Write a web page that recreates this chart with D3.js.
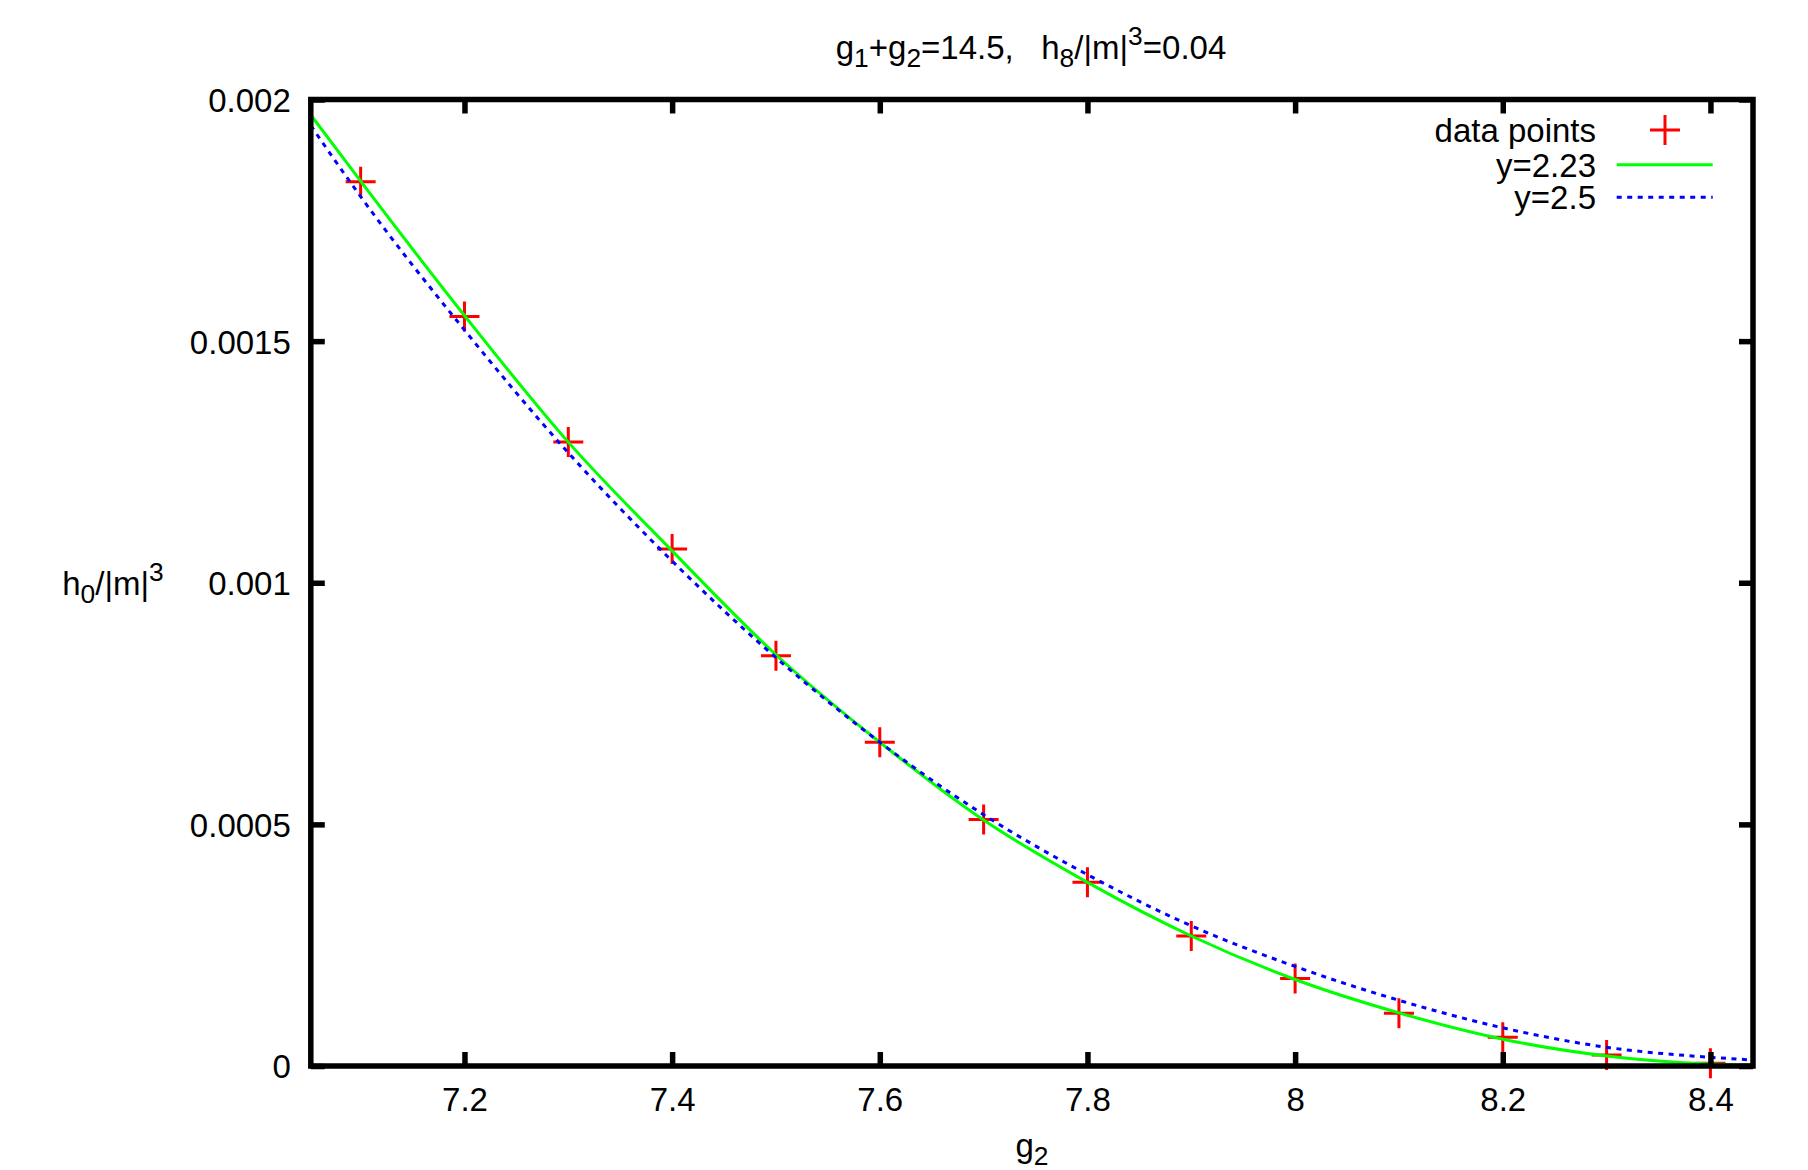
<!DOCTYPE html>
<html>
<head>
<meta charset="utf-8">
<script src="https://cdn.jsdelivr.net/npm/d3@7"></script>
<style>
body { margin: 0; background: #fff; }
text { font-family: "Liberation Sans", Arial, sans-serif; font-size: 33px; fill: #000; }
</style>
</head>
<body>
<div id="chart"></div>
<script>
// data
var pointX = [7.1, 7.2, 7.3, 7.4, 7.5, 7.6, 7.7, 7.8, 7.9, 8.0, 8.1, 8.2, 8.3, 8.4]
var pointY = [0.00183, 0.001551, 0.001291, 0.00107, 0.000849, 0.00067, 0.00051, 0.00038,
              0.000269, 0.000181, 0.000109, 0.0000594, 0.0000228, 0.0000056]

var curveX = [7.052, 7.1, 7.2, 7.3, 7.4, 7.5, 7.6, 7.7, 7.8, 7.9, 8.0, 8.1, 8.2, 8.3, 8.4, 8.441]
var greenY = [0.001968, 0.001831, 0.001553, 0.001291, 0.001066, 0.000851, 0.00067, 0.000509,
              0.00038, 0.000269, 0.000179, 0.00011, 0.0000555, 0.0000208, 0.000004, 0.0000015]
var blueY = [0.001946, 0.001799, 0.001523, 0.001269, 0.001045, 0.000845, 0.00067, 0.00052,
             0.000396, 0.00029, 0.000206, 0.000136, 0.000079, 0.0000387, 0.000018, 0.0000124]

var xTicks = [7.2, 7.4, 7.6, 7.8, 8.0, 8.2, 8.4]
var xTickLabels = ["7.2", "7.4", "7.6", "7.8", "8", "8.2", "8.4"]
var yTicks = [0, 0.0005, 0.001, 0.0015, 0.002]
var yTickLabels = ["0", "0.0005", "0.001", "0.0015", "0.002"]

var legendNames = ["data points", "y=2.23", "y=2.5"]

// set the dimensions of the graph
var width = 1808
var height = 1170
var plotLeft = 310.8, plotRight = 1753, plotTop = 99.5, plotBottom = 1066

var svg = d3.select("#chart")
    .append("svg")
    .attr("width", width)
    .attr("height", height)

svg.append("rect").attr("width", width).attr("height", height).attr("fill", "#fff")

var x = d3.scaleLinear().domain([7.052, 8.441]).range([plotLeft, plotRight])
var y = d3.scaleLinear().domain([0, 0.002]).range([plotBottom, plotTop])

// writes gnuplot-like enhanced text (sub / superscripts)
function richText(sel, parts) {
    var shift = 0
    parts.forEach(function(p) {
        var want = p.sub ? 7.5 : (p.sup ? -14 : 0)
        sel.append("tspan")
            .attr("dy", want - shift)
            .style("font-size", p.sub || p.sup ? "26.4px" : null)
            .text(p.t)
        shift = want
    })
}

svg.append("clipPath").attr("id", "plotclip")
    .append("rect")
    .attr("x", plotLeft).attr("y", plotTop)
    .attr("width", plotRight - plotLeft).attr("height", plotBottom - plotTop)

var crossPath = "M-15,0H15M0,-15V15"

// data points
svg.append("g")
    .selectAll("path")
    .data(pointX)
    .enter()
    .append("path")
    .attr("d", crossPath)
    .attr("transform", function(d, i) { return "translate(" + x(d) + "," + y(pointY[i]) + ")" })
    .attr("fill", "none")
    .attr("stroke", "#ff0000")
    .attr("stroke-width", 3)

var line = function(vals) {
    return d3.line()
        .x(function(d) { return x(d) })
        .y(function(d, i) { return y(vals[i]) })
        .curve(d3.curveMonotoneX)(curveX)
}

var curves = svg.append("g").attr("clip-path", "url(#plotclip)")
curves.append("path")
    .attr("d", line(greenY))
    .attr("fill", "none")
    .attr("stroke", "#00ff00")
    .attr("stroke-width", 3)
curves.append("path")
    .attr("d", line(blueY))
    .attr("fill", "none")
    .attr("stroke", "#0000ff")
    .attr("stroke-width", 3)
    .attr("stroke-dasharray", "5,5.5")

// axes: ticks inward on all four sides
var ax = svg.append("g").attr("transform", "translate(0," + plotBottom + ")")
    .call(d3.axisBottom(x).tickValues(xTicks).tickSize(-14).tickPadding(22)
        .tickFormat(function(d, i) { return xTickLabels[i] }))
var ay = svg.append("g").attr("transform", "translate(" + plotLeft + ",0)")
    .call(d3.axisLeft(y).tickValues(yTicks).tickSize(-14).tickPadding(20)
        .tickFormat(function(d, i) { return yTickLabels[i] }))
svg.append("g").attr("transform", "translate(0," + plotTop + ")")
    .call(d3.axisTop(x).tickValues(xTicks).tickSize(-14).tickFormat(""))
svg.append("g").attr("transform", "translate(" + plotRight + ",0)")
    .call(d3.axisRight(y).tickValues(yTicks).tickSize(-14).tickFormat(""))

svg.selectAll(".domain").remove()
svg.selectAll(".tick line").attr("stroke", "#000").attr("stroke-width", 5.5)
svg.selectAll(".tick text")
    .attr("fill", "#000")
    .style("font-family", "'Liberation Sans', Arial, sans-serif")
    .style("font-size", "33px")
ay.selectAll(".tick text").attr("dy", "0.36em")

svg.append("rect")
    .attr("x", plotLeft).attr("y", plotTop)
    .attr("width", plotRight - plotLeft).attr("height", plotBottom - plotTop)
    .attr("fill", "none")
    .attr("stroke", "#000")
    .attr("stroke-width", 5.5)

// title and axis labels
richText(svg.append("text").attr("x", 1031).attr("y", 59.3).attr("text-anchor", "middle"),
    [{t: "g"}, {t: "1", sub: true}, {t: "+g"}, {t: "2", sub: true}, {t: "=14.5,\u00a0\u00a0\u00a0h"},
     {t: "8", sub: true}, {t: "/|m|"}, {t: "3", sup: true}, {t: "=0.04"}])

richText(svg.append("text").attr("x", 1032).attr("y", 1157).attr("text-anchor", "middle"),
    [{t: "g"}, {t: "2", sub: true}])

richText(svg.append("text").attr("x", 113).attr("y", 595).attr("text-anchor", "middle"),
    [{t: "h"}, {t: "0", sub: true}, {t: "/|m|"}, {t: "3", sup: true}])

// legend
var legendRowY = [130, 164.7, 197.3]
var leg = svg.append("g")
leg.selectAll("text")
    .data(legendNames)
    .enter()
    .append("text")
    .attr("x", 1596)
    .attr("y", function(d, i) { return legendRowY[i] + 11.8 })
    .attr("text-anchor", "end")
    .text(function(d) { return d })

leg.append("path")
    .attr("d", crossPath)
    .attr("transform", "translate(1665," + legendRowY[0] + ")")
    .attr("fill", "none")
    .attr("stroke", "#ff0000")
    .attr("stroke-width", 3)
leg.append("line")
    .attr("x1", 1616.7).attr("x2", 1712.7)
    .attr("y1", legendRowY[1]).attr("y2", legendRowY[1])
    .attr("stroke", "#00ff00")
    .attr("stroke-width", 3)
leg.append("line")
    .attr("x1", 1616.7).attr("x2", 1712.7)
    .attr("y1", legendRowY[2]).attr("y2", legendRowY[2])
    .attr("stroke", "#0000ff")
    .attr("stroke-width", 3)
    .attr("stroke-dasharray", "5,5.5")
</script>
</body>
</html>
